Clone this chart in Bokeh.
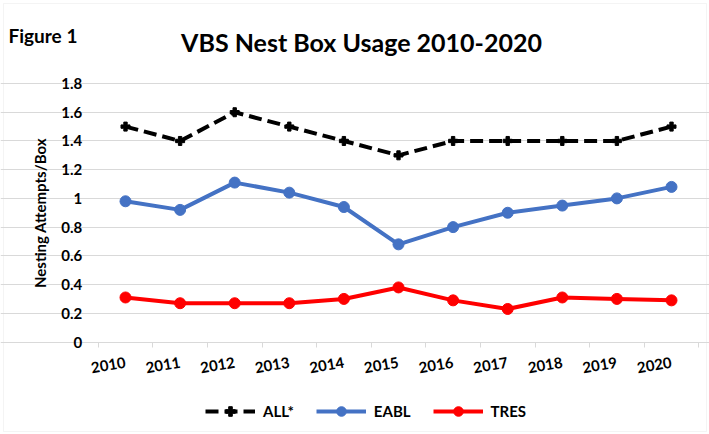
from bokeh.plotting import figure
from bokeh.models import (Range1d, FixedTicker, Label, Legend, LegendItem, LinearAxis, Grid,
                          BoxAnnotation, ColumnDataSource)
from bokeh.embed import file_html
from bokeh.resources import INLINE

years = ["2010", "2011", "2012", "2013", "2014", "2015", "2016", "2017", "2018", "2019", "2020"]
all_vals = [1.5, 1.4, 1.6, 1.5, 1.4, 1.3, 1.4, 1.4, 1.4, 1.4, 1.5]
eabl_vals = [0.98, 0.92, 1.11, 1.04, 0.94, 0.68, 0.80, 0.90, 0.95, 1.00, 1.08]
tres_vals = [0.31, 0.27, 0.27, 0.27, 0.30, 0.38, 0.29, 0.23, 0.31, 0.30, 0.29]
y_ticks = [0, 0.2, 0.4, 0.6, 0.8, 1, 1.2, 1.4, 1.6, 1.8]
y_tick_labels = ["0", "0.2", "0.4", "0.6", "0.8", "1", "1.2", "1.4", "1.6", "1.8"]
series_names = ["ALL*", "EABL", "TRES"]
title_text = "VBS Nest Box Usage 2010-2020"
fig_label = "Figure 1"
y_label = "Nesting Attempts/Box"

FONT = "Lato"
BLACK = "#000000"
BLUE = "#4472C4"
RED = "#FF0000"
GRID = "#d9d9d9"

W, H = 709, 434
# layout of the plotting area (pixels)
PLOT_LEFT = 97.7
CAT_W = 54.6
ZERO_Y = 341.5
PX_PER_UNIT = 143.6

n = len(years)
x_idx = list(range(n))
x_start = -0.5 - PLOT_LEFT / CAT_W
x_end = x_start + W / CAT_W
y_end = ZERO_Y / PX_PER_UNIT
y_start = y_end - H / PX_PER_UNIT
y_min, y_max = y_ticks[0], y_ticks[-1]

src = ColumnDataSource(dict(x=x_idx, all=all_vals, eabl=eabl_vals, tres=tres_vals))

p = figure(width=W, height=H, x_range=Range1d(x_start, x_end), y_range=Range1d(y_start, y_end),
           x_axis_type=None, y_axis_type=None, output_backend="svg", toolbar_location=None,
           min_border=0)
p.title.visible = False
p.outline_line_color = None
p.background_fill_color = "white"
p.border_fill_color = "white"

# grid
p.add_layout(Grid(dimension=1, ticker=FixedTicker(ticks=y_ticks), grid_line_color=GRID,
                  grid_line_width=1, bounds=(-0.5, n - 0.5)))

# y axis
yaxis = LinearAxis(fixed_location=-0.5, bounds=(y_min, y_max), ticker=FixedTicker(ticks=y_ticks),
                   major_label_overrides={t: l for t, l in zip(y_ticks, y_tick_labels)},
                   axis_line_color=None, major_tick_line_color=None, minor_tick_line_color=None,
                   major_label_standoff=10, major_label_text_font=FONT,
                   major_label_text_font_style="bold", major_label_text_font_size="15px",
                   major_label_text_color=BLACK, axis_label=y_label, axis_label_text_font=FONT,
                   axis_label_text_font_style="bold", axis_label_text_font_size="15px",
                   axis_label_text_color=BLACK, axis_label_standoff=10)
p.add_layout(yaxis, "left")

# x axis: line and category boundary ticks
edges = [i - 0.5 for i in range(n + 1)]
xaxis_ticks = LinearAxis(fixed_location=0, bounds=(-0.5, n - 0.5), ticker=FixedTicker(ticks=edges),
                         major_label_overrides={e: "" for e in edges},
                         axis_line_color=GRID, axis_line_width=1, major_tick_line_color=GRID,
                         major_tick_out=5, major_tick_in=0, minor_tick_line_color=None)
p.add_layout(xaxis_ticks, "below")
# x axis: category labels
xaxis_labels = LinearAxis(fixed_location=0, ticker=FixedTicker(ticks=x_idx),
                          major_label_overrides={i: y for i, y in zip(x_idx, years)},
                          axis_line_color=None, major_tick_line_color=None, minor_tick_line_color=None,
                          major_tick_out=5, major_tick_in=0,
                          major_label_orientation=0.17, major_label_standoff=15,
                          major_label_text_font=FONT, major_label_text_font_style="bold",
                          major_label_text_font_size="15px", major_label_text_color=BLACK)
p.add_layout(xaxis_labels, "below")

# data
r_all_l = p.line("x", "all", source=src, line_color=BLACK, line_width=4, line_dash="13 6")
r_all_m = p.scatter("x", "all", source=src, marker="plus", size=9, color=BLACK)
r_eabl_l = p.line("x", "eabl", source=src, line_color=BLUE, line_width=4)
r_eabl_m = p.scatter("x", "eabl", source=src, marker="circle", size=11, color=BLUE)
r_tres_l = p.line("x", "tres", source=src, line_color=RED, line_width=4)
r_tres_m = p.scatter("x", "tres", source=src, marker="circle", size=11, color=RED)

legend = Legend(items=[LegendItem(label=series_names[0], renderers=[r_all_l, r_all_m]),
                       LegendItem(label=series_names[1], renderers=[r_eabl_l, r_eabl_m]),
                       LegendItem(label=series_names[2], renderers=[r_tres_l, r_tres_m])],
                orientation="horizontal", location=(205, 11),
                glyph_width=50, glyph_height=24, label_height=24, label_standoff=8,
                spacing=22, padding=0, margin=0,
                border_line_color=None, background_fill_alpha=0,
                label_text_font=FONT, label_text_font_style="bold",
                label_text_font_size="15px", label_text_color=BLACK)
p.add_layout(legend)

# titles (screen units from bottom-left of the canvas)
p.add_layout(Label(x=361, y=H - 41, x_units="screen", y_units="screen", text=title_text,
                   text_align="center", text_baseline="alphabetic", text_font=FONT,
                   text_font_style="bold", text_font_size="25px", text_color=BLACK))
p.add_layout(Label(x=8, y=H - 35, x_units="screen", y_units="screen", text=fig_label,
                   text_align="left", text_baseline="alphabetic", text_font=FONT,
                   text_font_style="bold", text_font_size="19px", text_color=BLACK))

# chart border
p.add_layout(BoxAnnotation(left=3, right=706, bottom=3, top=431,
                           left_units="screen", right_units="screen",
                           top_units="screen", bottom_units="screen",
                           fill_alpha=0, line_color=GRID, line_width=1))

open("out.html", "w").write(file_html(p, INLINE))
